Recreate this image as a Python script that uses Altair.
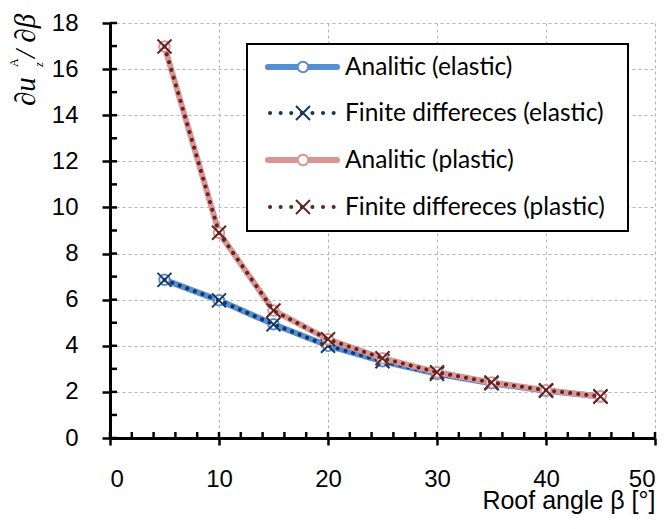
import altair as alt
import pandas as pd

# ---- data ----
angles = [5, 10, 15, 20, 25, 30, 35, 40, 45]
analytic_elastic = [6.86, 5.97, 4.93, 4.00, 3.33, 2.78, 2.37, 2.05, 1.80]
fd_elastic = [6.86, 5.97, 4.93, 4.00, 3.33, 2.78, 2.37, 2.05, 1.80]
analytic_plastic = [16.98, 8.90, 5.53, 4.28, 3.46, 2.85, 2.41, 2.07, 1.80]
fd_plastic = [16.98, 8.90, 5.53, 4.28, 3.46, 2.85, 2.41, 2.07, 1.80]

x_major = [0, 10, 20, 30, 40, 50]
x_minor = list(range(0, 51, 2))
y_major = [0, 2, 4, 6, 8, 10, 12, 14, 16, 18]
y_minor = list(range(0, 19, 1))

series_names = ["Analitic (elastic)", "Finite differeces (elastic)",
                "Analitic (plastic)", "Finite differeces (plastic)"]
series_colors = ["#558ED5", "#17375E", "#D99694", "#632523"]
series_values = [analytic_elastic, fd_elastic, analytic_plastic, fd_plastic]
series_kind = ["analytic", "fd", "analytic", "fd"]

W, H = 545, 415
LABEL_FONT = "Liberation Sans, Arial, sans-serif"
X_PATH = "M-1,-1L1,1M-1,1L1,-1"

x_scale = alt.Scale(domain=[0, 50], nice=False, zero=False)
y_scale = alt.Scale(domain=[0, 18], nice=False, zero=False)

x_axis = alt.Axis(values=x_major, title="Roof angle \u03b2 [\u00b0]", grid=True,
                  tickSize=7, tickWidth=2.5, tickColor="black",
                  domainColor="black", domainWidth=3,
                  labelFont=LABEL_FONT, labelFontSize=24, labelColor="black",
                  labelPadding=22, labelBaseline="top",
                  titleFont=LABEL_FONT, titleFontSize=25, titleFontWeight="normal",
                  titleColor="black", titleX=W, titleY=70, titleAlign="right",
                  titleBaseline="alphabetic", titleAnchor="end",
                  gridColor="#b3b3b3", gridDash=[3, 3], gridWidth=1)
y_axis = alt.Axis(values=y_major, title=None, grid=True,
                  tickSize=8, tickWidth=2.5, tickColor="black",
                  domainColor="black", domainWidth=3,
                  labelFont=LABEL_FONT, labelFontSize=24, labelColor="black",
                  labelPadding=24, labelAlign="right",
                  gridColor="#b3b3b3", gridDash=[3, 3], gridWidth=1)

layers = []
for name, col, vals, kind in zip(series_names, series_colors, series_values, series_kind):
    df = pd.DataFrame({"angle": angles, "value": vals, "series": name})
    base = alt.Chart(df).encode(
        x=alt.X("angle:Q", scale=x_scale, axis=x_axis),
        y=alt.Y("value:Q", scale=y_scale, axis=y_axis),
    )
    if kind == "analytic":
        layers.append(base.mark_line(color=col, strokeWidth=6, strokeCap="round"))
        layers.append(base.mark_point(shape="circle", filled=True, fill="white",
                                      stroke=col, strokeWidth=2, size=110, opacity=1))
    else:
        layers.append(base.mark_line(color=col, strokeWidth=4, strokeCap="round",
                                     strokeDash=[0.1, 8]))
        layers.append(base.mark_point(shape=X_PATH, filled=False, stroke=col,
                                      strokeWidth=2, size=196, opacity=1))

# inward tick marks (minor + inner half of major)
xt = pd.DataFrame({"angle": x_minor})
layers.append(alt.Chart(xt).mark_rule(color="black", strokeWidth=2.5).encode(
    x=alt.X("angle:Q", scale=x_scale, axis=x_axis),
    y=alt.value(H), y2=alt.value(H - 6)))
yt = pd.DataFrame({"value": y_minor})
layers.append(alt.Chart(yt).mark_rule(color="black", strokeWidth=2.5).encode(
    y=alt.Y("value:Q", scale=y_scale, axis=y_axis),
    x=alt.value(0), x2=alt.value(7)))

# y axis title built from pieces (rotated)
yt_font = "Liberation Serif"
layers.append(alt.Chart().mark_text(text="\u2202u", angle=270, align="left",
                                    baseline="alphabetic", font=yt_font, fontSize=29,
                                    fontStyle="italic", color="black").encode(
    x=alt.value(-75), y=alt.value(83)))
layers.append(alt.Chart().mark_text(text="A", angle=270, align="left",
                                    baseline="alphabetic", font=yt_font, fontSize=12,
                                    color="black").encode(
    x=alt.value(-92), y=alt.value(44)))
layers.append(alt.Chart().mark_text(text="z", angle=270, align="left",
                                    baseline="alphabetic", font=yt_font, fontSize=12,
                                    fontStyle="italic", color="black").encode(
    x=alt.value(-67), y=alt.value(44)))
layers.append(alt.Chart().mark_text(text="/ \u2202\u03b2", angle=270, align="left",
                                    baseline="alphabetic", font=yt_font, fontSize=29,
                                    fontStyle="italic", color="black").encode(
    x=alt.value(-75), y=alt.value(35)))

# legend (manual)
LX0, LX1, LY0, LY1 = 137, 518, 21, 208
layers.append(alt.Chart().mark_rect(fill="white", stroke="black", strokeWidth=2).encode(
    x=alt.value(LX0), x2=alt.value(LX1), y=alt.value(LY0), y2=alt.value(LY1)))
rows = [44, 90, 137, 184]
for name, col, kind, ry in zip(series_names, series_colors, series_kind, rows):
    if kind == "analytic":
        layers.append(alt.Chart().mark_rule(color=col, strokeWidth=6, strokeCap="round").encode(
            x=alt.value(158), x2=alt.value(227), y=alt.value(ry)))
        layers.append(alt.Chart().mark_point(shape="circle", filled=True, fill="white",
                                             stroke=col, strokeWidth=2, size=110,
                                             opacity=1).encode(
            x=alt.value(193), y=alt.value(ry)))
    else:
        layers.append(alt.Chart().mark_rule(color=col, strokeWidth=4, strokeCap="round",
                                            strokeDash=[0.1, 10.5]).encode(
            x=alt.value(160), x2=alt.value(228), y=alt.value(ry)))
        layers.append(alt.Chart().mark_point(shape=X_PATH, filled=False, stroke=col,
                                             strokeWidth=2, size=196, opacity=1).encode(
            x=alt.value(193), y=alt.value(ry)))
    layers.append(alt.Chart().mark_text(text=name, align="left", baseline="alphabetic",
                                        font="Lato", fontSize=24.5, color="black").encode(
        x=alt.value(235), y=alt.value(ry + 8)))

chart = alt.layer(*layers).properties(
    width=W, height=H,
    autosize=alt.AutoSizeParams(type="none"),
    padding={"left": 102, "top": 15, "right": 5, "bottom": 80},
    background="white",
).configure_view(stroke=None)

chart.save("out.html", embed_options={"renderer": "svg", "actions": False})
